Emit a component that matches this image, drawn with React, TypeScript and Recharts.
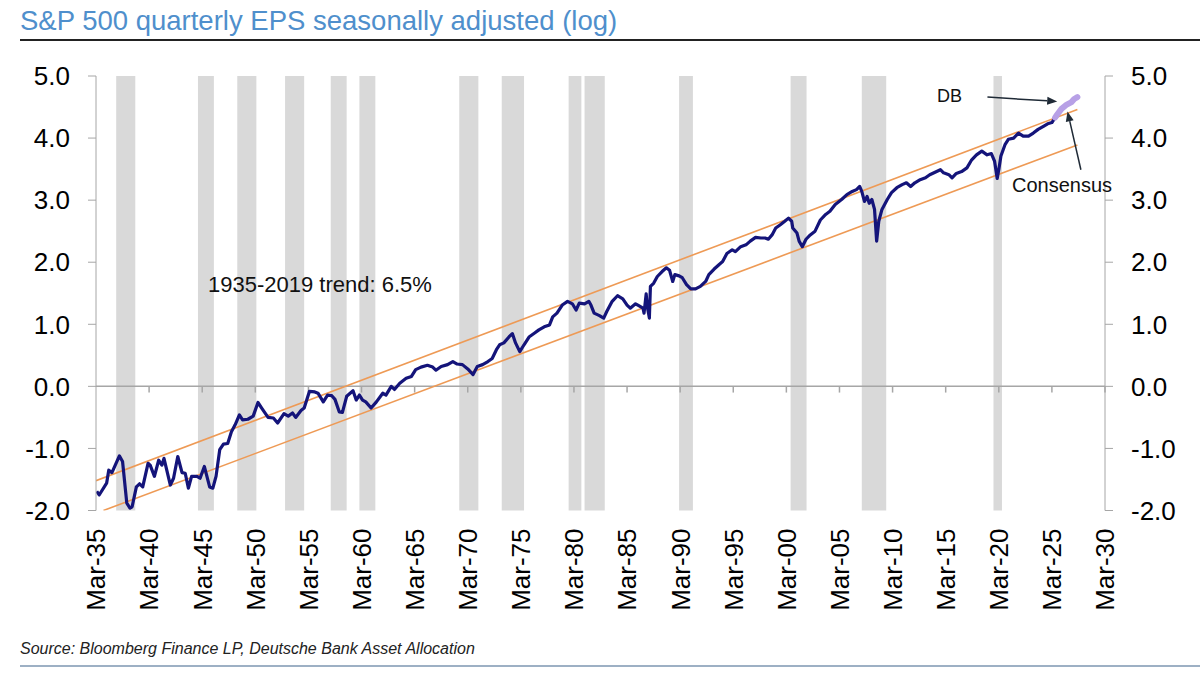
import React from "react";
import {
  LineChart,
  Line,
  XAxis,
  YAxis,
  ReferenceArea,
  ReferenceLine,
} from "recharts";

// quarterly EPS (log)
const epsYears = [
  1935.07, 1935.3, 1936.0, 1936.2, 1936.5, 1937.2, 1937.5, 1937.9, 1938.2, 1938.4,
  1938.8, 1939.1, 1939.4, 1939.9, 1940.1, 1940.5, 1940.9, 1941.2, 1941.4, 1942.0,
  1942.3, 1942.7, 1943.1, 1943.4, 1943.7, 1944.0, 1944.5, 1944.8, 1945.2, 1945.7,
  1946.0, 1946.3, 1946.65, 1947.0, 1947.4, 1947.75, 1948.1, 1948.5, 1948.8, 1949.3,
  1949.8, 1950.25, 1950.6, 1951.2, 1951.7, 1952.1, 1952.7, 1953.1, 1953.5, 1953.8,
  1954.3, 1954.6, 1955.1, 1955.6, 1955.9, 1956.4, 1956.8, 1957.2, 1957.5, 1957.9,
  1958.2, 1958.6, 1959.2, 1959.5, 1959.8, 1960.1, 1960.4, 1960.9, 1961.4, 1962.0,
  1962.3, 1962.8, 1963.1, 1963.6, 1964.2, 1964.7, 1965.1, 1965.6, 1966.2, 1966.7,
  1967.0, 1967.5, 1968.1, 1968.6, 1969.0, 1969.5, 1970.0, 1970.5, 1970.9, 1971.4,
  1971.9, 1972.3, 1972.7, 1973.0, 1973.4, 1973.9, 1974.2, 1974.5, 1974.9, 1975.3,
  1975.8, 1976.3, 1976.7, 1977.2, 1977.7, 1978.0, 1978.4, 1978.9, 1979.4, 1979.85,
  1980.2, 1980.5, 1981.0, 1981.4, 1981.6, 1981.9, 1982.4, 1982.8, 1983.1, 1983.6,
  1984.1, 1984.6, 1985.0, 1985.3, 1985.8, 1986.1, 1986.5, 1986.6, 1986.8, 1986.9,
  1987.1, 1987.2, 1987.5, 1987.85, 1988.3, 1988.7, 1989.0, 1989.3, 1989.5, 1989.9,
  1990.2, 1990.6, 1991.0, 1991.45, 1991.9, 1992.4, 1992.7, 1993.2, 1993.65, 1994.0,
  1994.4, 1994.9, 1995.2, 1995.7, 1996.2, 1996.6, 1997.1, 1997.6, 1998.0, 1998.3,
  1998.65, 1999.0, 1999.4, 1999.85, 2000.2, 2000.5, 2000.6, 2001.0, 2001.2, 2001.5,
  2001.85, 2002.25, 2002.7, 2003.2, 2003.7, 2004.1, 2004.6, 2005.2, 2005.7, 2006.2,
  2006.6, 2006.9, 2007.1, 2007.35, 2007.6, 2007.8, 2008.05, 2008.3, 2008.5, 2008.7,
  2009.0, 2009.5, 2009.9, 2010.4, 2010.9, 2011.3, 2011.7, 2012.1, 2012.6, 2013.1,
  2013.5, 2014.0, 2014.5, 2014.8, 2015.3, 2015.6, 2016.0, 2016.5, 2017.0, 2017.45,
  2017.9, 2018.4, 2018.9, 2019.3, 2019.6, 2019.85, 2020.0, 2020.2, 2020.6, 2020.9,
  2021.4, 2021.85, 2022.3, 2022.8, 2023.25, 2023.7, 2024.2, 2024.6, 2025.0, 2025.3,
];
const epsValues = [
  -1.69, -1.75, -1.56, -1.35, -1.39, -1.12, -1.21, -1.88, -1.96, -1.94,
  -1.62, -1.57, -1.62, -1.24, -1.27, -1.45, -1.19, -1.27, -1.16, -1.59,
  -1.48, -1.13, -1.39, -1.40, -1.64, -1.45, -1.45, -1.48, -1.29, -1.62,
  -1.64, -1.45, -1.02, -0.93, -0.92, -0.73, -0.62, -0.46, -0.54, -0.53,
  -0.48, -0.26, -0.35, -0.50, -0.51, -0.59, -0.44, -0.48, -0.43, -0.50,
  -0.39, -0.35, -0.08, -0.09, -0.11, -0.25, -0.14, -0.15, -0.21, -0.41,
  -0.42, -0.16, -0.07, -0.22, -0.14, -0.22, -0.25, -0.35, -0.25, -0.11,
  -0.14, 0.0, -0.05, 0.05, 0.13, 0.16, 0.27, 0.31, 0.34, 0.31,
  0.26, 0.32, 0.35, 0.40, 0.36, 0.35, 0.28, 0.19, 0.32, 0.35,
  0.40, 0.45, 0.59, 0.67, 0.70, 0.80, 0.85, 0.70, 0.56, 0.67,
  0.80, 0.86, 0.91, 0.96, 0.99, 1.12, 1.18, 1.31, 1.37, 1.33,
  1.23, 1.34, 1.33, 1.37, 1.31, 1.18, 1.14, 1.10, 1.21, 1.37,
  1.46, 1.41, 1.31, 1.26, 1.33, 1.30, 1.26, 1.18, 1.49, 1.29,
  1.10, 1.61, 1.66, 1.77, 1.85, 1.91, 1.87, 1.69, 1.80, 1.78,
  1.75, 1.64, 1.57, 1.57, 1.61, 1.69, 1.80, 1.89, 1.96, 2.01,
  2.14, 2.20, 2.17, 2.25, 2.28, 2.34, 2.40, 2.39, 2.39, 2.37,
  2.44, 2.55, 2.60, 2.66, 2.71, 2.66, 2.55, 2.47, 2.34, 2.25,
  2.37, 2.44, 2.50, 2.68, 2.77, 2.82, 2.93, 3.01, 3.09, 3.14,
  3.17, 3.22, 3.14, 2.98, 3.06, 2.95, 3.01, 2.85, 2.34, 2.66,
  2.85, 3.01, 3.12, 3.20, 3.25, 3.28, 3.22, 3.28, 3.33, 3.36,
  3.41, 3.45, 3.49, 3.44, 3.41, 3.36, 3.43, 3.46, 3.52, 3.65,
  3.73, 3.79, 3.73, 3.75, 3.63, 3.35, 3.49, 3.71, 3.90, 3.98,
  4.00, 4.08, 4.03, 4.03, 4.08, 4.14, 4.19, 4.23, 4.25, 4.33,
];

// DB / consensus projection
const dbYears = [2025.3, 2025.5, 2025.9, 2026.4, 2026.85, 2027.1, 2027.4];
const dbValues = [4.33, 4.38, 4.47, 4.54, 4.58, 4.63, 4.66];

// 1935-2019 trend channel
const upperYears = [1935, 2027.4];
const upperValues = [-1.52, 4.46];
const lowerYears = [1935.7, 2027.4];
const lowerValues = [-2.0, 3.89];

// recession shading
const recessionStart = [
  1936.9, 1944.6, 1948.3, 1952.8, 1957.1, 1959.8, 1969.2, 1973.2, 1979.5,
  1981.0, 1989.9, 2000.4, 2007.1, 2019.5,
];
const recessionEnd = [
  1938.7, 1946.1, 1950.1, 1954.6, 1958.6, 1961.3, 1971.0, 1975.3, 1980.7,
  1982.9, 1991.2, 2001.9, 2009.4, 2020.3,
];

const xTicks = [
  1935, 1940, 1945, 1950, 1955, 1960, 1965, 1970, 1975, 1980, 1985, 1990,
  1995, 2000, 2005, 2010, 2015, 2020, 2025, 2030,
];
const yTicks = [-2, -1, 0, 1, 2, 3, 4, 5];

const toRows = (xs: number[], ys: number[]) =>
  xs.map((year, i) => ({ year, v: ys[i] }));

const epsData = toRows(epsYears, epsValues);
const dbData = toRows(dbYears, dbValues);
const upperData = toRows(upperYears, upperValues);
const lowerData = toRows(lowerYears, lowerValues);

const FONT = "'Liberation Sans', Arial, sans-serif";
const AXIS_GREY = "#a6a6a6";

const fmtYear = (y: number) => `Mar-${String(Math.round(y) % 100).padStart(2, "0")}`;

const XTick = ({ x, y, payload }: any) => (
  <text
    x={x}
    y={y}
    transform={`rotate(-90, ${x}, ${y})`}
    textAnchor="end"
    dy="0.36em"
    fontSize={26}
    fontFamily={FONT}
    fill="#000"
  >
    {fmtYear(payload.value)}
  </text>
);

const Arrow = (props: any) => {
  const { x1, y1, x2, y2 } = props;
  const a = Math.atan2(y2 - y1, x2 - x1);
  const len = 10;
  const w = 4;
  const bx = x2 - len * Math.cos(a);
  const by = y2 - len * Math.sin(a);
  const px = -Math.sin(a) * w;
  const py = Math.cos(a) * w;
  return (
    <g>
      <line x1={x1} y1={y1} x2={bx} y2={by} stroke="#1f2a36" strokeWidth={1.5} />
      <polygon
        points={`${x2},${y2} ${bx + px},${by + py} ${bx - px},${by - py}`}
        fill="#1f2a36"
      />
    </g>
  );
};

export default function App() {
  return (
    <div
      style={{
        position: "absolute",
        left: 0,
        top: 0,
        width: 1200,
        height: 673,
        background: "#fff",
        fontFamily: FONT,
      }}
    >
      <div
        style={{
          position: "absolute",
          left: 20,
          top: 5,
          fontSize: 27.5,
          color: "#4f8fcc",
          whiteSpace: "nowrap",
        }}
      >
        S&amp;P 500 quarterly EPS seasonally adjusted (log)
      </div>
      <div
        style={{
          position: "absolute",
          left: 20,
          top: 39,
          width: 1180,
          height: 1.5,
          background: "#222",
        }}
      />

      <div style={{ position: "absolute", left: 0, top: 0 }}>
        <LineChart
          width={1200}
          height={673}
          margin={{ top: 76, right: 15, bottom: 52.5, left: 20 }}
        >
          <XAxis
            dataKey="year"
            type="number"
            domain={[1935, 2030]}
            ticks={xTicks}
            axisLine={false}
            tickLine={false}
            tickSize={0}
            tickMargin={18}
            height={110}
            interval={0}
            tick={<XTick />}
            allowDataOverflow
          />
          <YAxis
            yAxisId="left"
            domain={[-2, 5]}
            ticks={yTicks}
            width={76}
            stroke={AXIS_GREY}
            tickSize={8}
            tickMargin={18}
            tick={{ fontSize: 26, fill: "#000", fontFamily: FONT }}
            tickFormatter={(v: number) => v.toFixed(1)}
            allowDataOverflow
          />
          <YAxis
            yAxisId="right"
            orientation="right"
            domain={[-2, 5]}
            ticks={yTicks}
            width={80}
            stroke={AXIS_GREY}
            tickSize={8}
            tickMargin={18}
            tick={{ fontSize: 26, fill: "#000", fontFamily: FONT }}
            tickFormatter={(v: number) => v.toFixed(1)}
            allowDataOverflow
          />

          {recessionStart.map((s, i) => (
            <ReferenceArea
              key={`rec-${i}`}
              yAxisId="left"
              x1={s}
              x2={recessionEnd[i]}
              y1={-2}
              y2={5}
              fill="#d9d9d9"
              fillOpacity={1}
              stroke="none"
            />
          ))}

          <ReferenceLine yAxisId="left" y={0} stroke={AXIS_GREY} strokeWidth={1.5} />
          {xTicks.slice(1).map((t) => (
            <ReferenceLine
              key={`zt-${t}`}
              yAxisId="left"
              segment={[
                { x: t, y: 0 },
                { x: t, y: -0.1 },
              ]}
              stroke={AXIS_GREY}
              strokeWidth={1.5}
            />
          ))}

          <Line
            yAxisId="left"
            data={upperData}
            dataKey="v"
            stroke="#ee9a55"
            strokeWidth={1.6}
            dot={false}
            isAnimationActive={false}
          />
          <Line
            yAxisId="left"
            data={lowerData}
            dataKey="v"
            stroke="#ee9a55"
            strokeWidth={1.6}
            dot={false}
            isAnimationActive={false}
          />
          <Line
            yAxisId="left"
            data={epsData}
            dataKey="v"
            stroke="#14147a"
            strokeWidth={3.2}
            strokeLinejoin="round"
            dot={false}
            isAnimationActive={false}
          />
          <Line
            yAxisId="left"
            data={dbData}
            dataKey="v"
            stroke="#b7a0e6"
            strokeWidth={6}
            strokeLinecap="round"
            strokeLinejoin="round"
            dot={false}
            isAnimationActive={false}
          />

          <ReferenceLine
            yAxisId="left"
            segment={[
              { x: 2018.93, y: 4.66 },
              { x: 2025.5, y: 4.59 },
            ]}
            shape={<Arrow />}
          />
          <ReferenceLine
            yAxisId="left"
            segment={[
              { x: 2027.73, y: 3.49 },
              { x: 2026.47, y: 4.43 },
            ]}
            shape={<Arrow />}
          />
        </LineChart>
      </div>

      <div style={{ position: "absolute", left: 937, top: 86, fontSize: 18, color: "#111" }}>
        DB
      </div>
      <div style={{ position: "absolute", left: 1012, top: 174, fontSize: 20, color: "#111" }}>
        Consensus
      </div>
      <div style={{ position: "absolute", left: 208, top: 272, fontSize: 22, color: "#111" }}>
        1935-2019 trend: 6.5%
      </div>

      <div
        style={{
          position: "absolute",
          left: 20,
          top: 640,
          fontSize: 16,
          fontStyle: "italic",
          color: "#222",
        }}
      >
        Source: Bloomberg Finance LP, Deutsche Bank Asset Allocation
      </div>
      <div
        style={{
          position: "absolute",
          left: 20,
          top: 665,
          width: 1180,
          height: 1.5,
          background: "#9db0c4",
        }}
      />
    </div>
  );
}
